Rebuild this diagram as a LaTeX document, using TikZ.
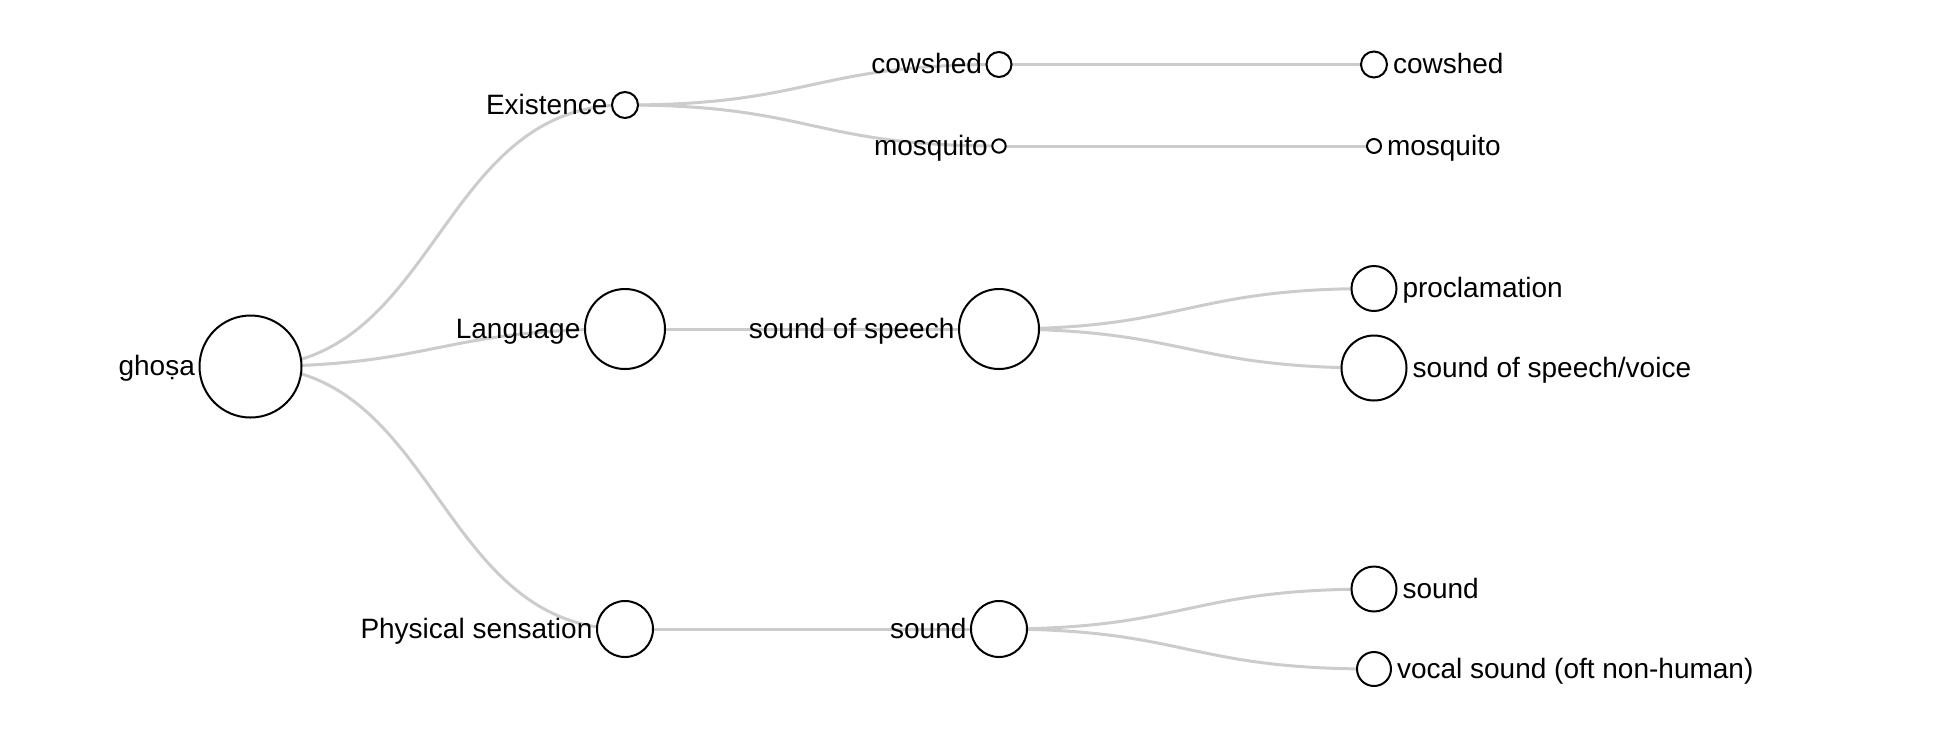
\documentclass[tikz,border=0pt]{standalone}
\usepackage{fontspec}
\setmainfont{Liberation Sans}
\usetikzlibrary{positioning,calc,backgrounds}
\definecolor{linkgray}{RGB}{204,204,204}

\begin{document}
\begin{tikzpicture}[x=0.5pt, y=-0.5pt,
    dot/.style={circle, draw=black, line width=1pt, fill=white, inner sep=0pt},
    lbl/.style={inner sep=0pt, text height=1.11em, text depth=0.2em, font=\fontsize{14pt}{17pt}\selectfont},
    link/.style={draw=linkgray, line width=1.5pt}]
    \useasboundingbox (0,0) rectangle (1944,746);

    % Nodes
    \node[dot, minimum size=51pt] (ghosa) at (250.5,366.5) {};
    \node[dot, minimum size=13pt] (existence) at (625,105) {};
    \node[dot, minimum size=40pt] (language) at (625,329) {};
    \node[dot, minimum size=28pt] (physical) at (625,629) {};
    \node[dot, minimum size=12.5pt] (cowshed) at (999,64.5) {};
    \node[dot, minimum size=6.7pt] (mosquito) at (999,146) {};
    \node[dot, minimum size=40pt] (speech) at (999,329) {};
    \node[dot, minimum size=28pt] (sound) at (999,629) {};
    \node[dot, minimum size=13pt] (cowshed2) at (1374,64.5) {};
    \node[dot, minimum size=7pt] (mosquito2) at (1374,146) {};
    \node[dot, minimum size=22.5pt] (proclamation) at (1374,288.5) {};
    \node[dot, minimum size=32.5pt] (voice) at (1374,368) {};
    \node[dot, minimum size=22.5pt] (sound2) at (1374,589) {};
    \node[dot, minimum size=17pt] (vocal) at (1374,669) {};

    % Labels
    \node[lbl, left=1.6pt of ghosa] (ghosa-l) {ghoṣa};
    \node[lbl, left=1.6pt of existence] (existence-l) {Existence};
    \node[lbl, left=1.6pt of language] (language-l) {Language};
    \node[lbl, left=1.6pt of physical] (physical-l) {Physical sensation};
    \node[lbl, left=1.6pt of cowshed] (cowshed-l) {cowshed};
    \node[lbl, left=1.6pt of mosquito] (mosquito-l) {mosquito};
    \node[lbl, left=1.6pt of speech] (speech-l) {sound of speech};
    \node[lbl, left=1.6pt of sound] (sound-l) {sound};
    \node[lbl, right=2.3pt of cowshed2] (cowshed2-l) {cowshed};
    \node[lbl, right=2.3pt of mosquito2] (mosquito2-l) {mosquito};
    \node[lbl, right=2.3pt of proclamation] (proclamation-l) {proclamation};
    \node[lbl, right=2.3pt of voice] (voice-l) {sound of speech/voice};
    \node[lbl, right=2.3pt of sound2] (sound2-l) {sound};
    \node[lbl, right=2.3pt of vocal] (vocal-l) {vocal sound (oft non-human)};

    % Links
    \begin{scope}[on background layer]
        \foreach \a/\b in {ghosa/existence, ghosa/language, ghosa/physical,
                existence/cowshed, existence/mosquito, language/speech, physical/sound,
                cowshed/cowshed2, mosquito/mosquito2, speech/proclamation, speech/voice,
                sound/sound2, sound/vocal}
            \draw[link] let \p1=(\a.center), \p2=(\b.center) in
                (\p1) .. controls ({(\x1+\x2)/2},\y1) and ({(\x1+\x2)/2},\y2) .. (\p2);
    \end{scope}
\end{tikzpicture}
\end{document}
